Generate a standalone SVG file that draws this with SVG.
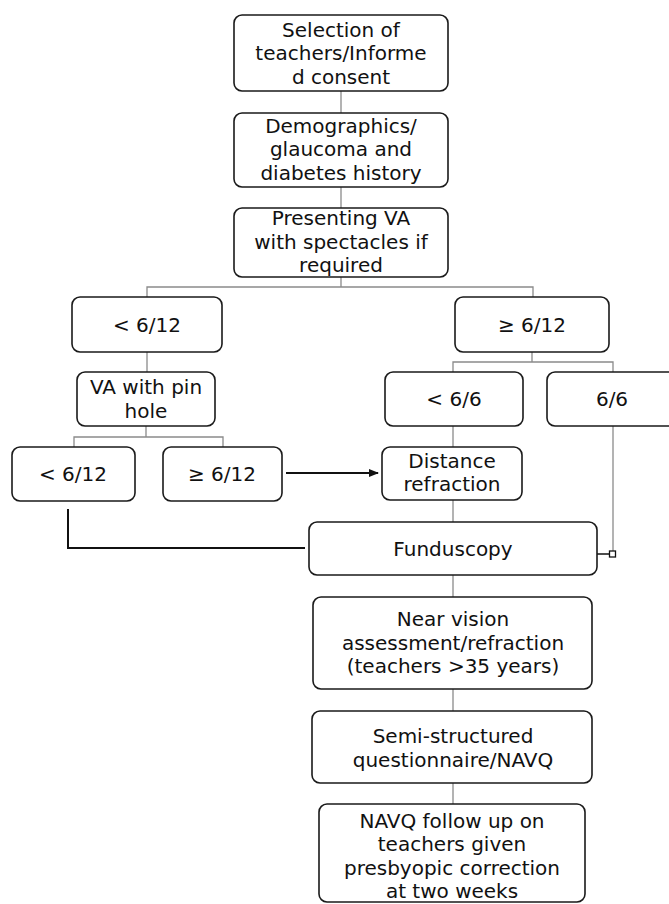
<svg xmlns="http://www.w3.org/2000/svg" width="669" height="904" viewBox="0 0 669 904">
<style>
.box{fill:#fff;stroke:#1a1a1a;stroke-width:1.6}
.t{font-family:"DejaVu Sans","Open Sans",sans-serif;font-size:20px;fill:#111;text-anchor:middle}
.c{fill:none;stroke:#8a8a8a;stroke-width:1.3}
.k{fill:none;stroke:#111;stroke-width:2}
</style>
<defs>
<marker id="ah" markerWidth="10" markerHeight="10" refX="9" refY="5" orient="auto" markerUnits="userSpaceOnUse">
<path d="M0,1 L10,5 L0,9 Z" fill="#111"/>
</marker>
</defs>
<rect width="669" height="904" fill="#fff"/>
<g id="connectors">
<path class="c" d="M341,91 V113"/>
<path class="c" d="M341,187 V208"/>
<path class="c" d="M341,277 V287 M147,297 V287 H533 V297"/>
<path class="c" d="M147,352 V372"/>
<path class="c" d="M532,352 V362 M453,372 V362 H613 V372"/>
<path class="c" d="M146,426 V437 M74,447 V437 H223 V447"/>
<path class="c" d="M453,426 V447"/>
<path class="c" d="M453,500 V522"/>
<path class="c" d="M453,575 V597"/>
<path class="c" d="M453,689 V711"/>
<path class="c" d="M453,783 V804"/>
<path class="c" d="M613,426 V551"/>
<path class="k" d="M286,473 H378" marker-end="url(#ah)"/>
<path class="k" d="M68,509 V548 H305"/>
<path d="M597,554 H609" fill="none" stroke="#111" stroke-width="1.5"/>
<rect x="609.5" y="551" width="6" height="6" fill="#fff" stroke="#111" stroke-width="1.3"/>
</g>
<g id="n1"><rect class="box" x="234" y="15" width="214" height="76" rx="8"/>
<text class="t" x="341" y="36.5">Selection of</text><text class="t" x="341" y="60">teachers/Informe</text><text class="t" x="341" y="83.5">d consent</text></g>
<g id="n2"><rect class="box" x="234" y="113" width="214" height="74" rx="8"/>
<text class="t" x="341" y="132.5">Demographics/</text><text class="t" x="341" y="156">glaucoma and</text><text class="t" x="341" y="179.5">diabetes history</text></g>
<g id="n3"><rect class="box" x="234" y="208" width="214" height="69" rx="8"/>
<text class="t" x="341" y="225">Presenting VA</text><text class="t" x="341" y="248.5">with spectacles if</text><text class="t" x="341" y="272">required</text></g>
<g id="n4"><rect class="box" x="72" y="297" width="150" height="55" rx="8"/>
<text class="t" x="147" y="332">&lt; 6/12</text></g>
<g id="n5"><rect class="box" x="455" y="297" width="154" height="55" rx="8"/>
<text class="t" x="532" y="332">≥ 6/12</text></g>
<g id="n6"><rect class="box" x="77" y="372" width="138" height="54" rx="8"/>
<text class="t" x="146" y="394">VA with pin</text><text class="t" x="146" y="417.5">hole</text></g>
<g id="n7"><rect class="box" x="385" y="372" width="138" height="54" rx="8"/>
<text class="t" x="454" y="406">&lt; 6/6</text></g>
<g id="n8"><rect class="box" x="547" y="372" width="130" height="54" rx="8"/>
<text class="t" x="612" y="406">6/6</text></g>
<g id="n9"><rect class="box" x="12" y="447" width="123" height="54" rx="8"/>
<text class="t" x="73" y="481">&lt; 6/12</text></g>
<g id="n10"><rect class="box" x="163" y="447" width="119" height="54" rx="8"/>
<text class="t" x="222" y="481">≥ 6/12</text></g>
<g id="n11"><rect class="box" x="382" y="447" width="140" height="53" rx="8"/>
<text class="t" x="452" y="467.5">Distance</text><text class="t" x="452" y="491">refraction</text></g>
<g id="n12"><rect class="box" x="309" y="522" width="288" height="53" rx="8"/>
<text class="t" x="453" y="556">Funduscopy</text></g>
<g id="n13"><rect class="box" x="313" y="597" width="279" height="92" rx="8"/>
<text class="t" x="453" y="626">Near vision</text><text class="t" x="453" y="649.5">assessment/refraction</text><text class="t" x="453" y="673">(teachers &gt;35 years)</text></g>
<g id="n14"><rect class="box" x="312" y="711" width="280" height="72" rx="8"/>
<text class="t" x="453" y="743">Semi-structured</text><text class="t" x="453" y="766.5">questionnaire/NAVQ</text></g>
<g id="n15"><rect class="box" x="319" y="804" width="266" height="98" rx="8"/>
<text class="t" x="452" y="827.5">NAVQ follow up on</text><text class="t" x="452" y="851">teachers given</text><text class="t" x="452" y="874.5">presbyopic correction</text><text class="t" x="452" y="898">at two weeks</text></g>
</svg>
